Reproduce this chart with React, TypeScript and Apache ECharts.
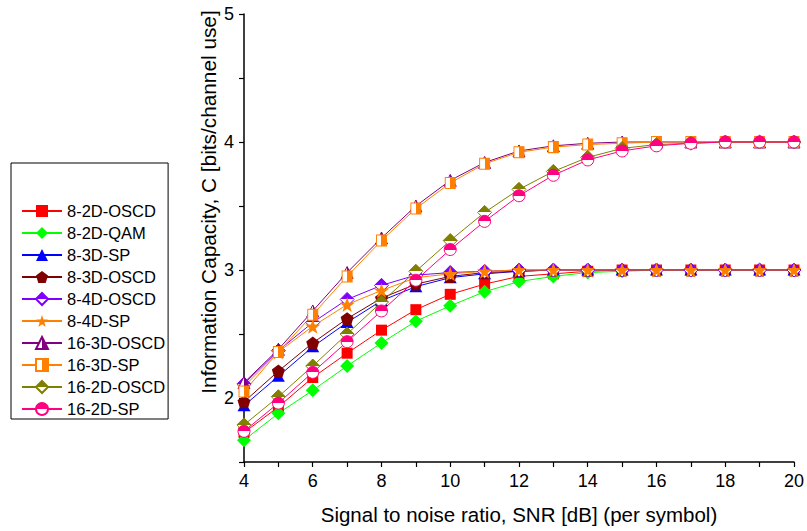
import React, { useEffect, useRef } from "react";
import * as echarts from "echarts";

const snr = [4, 5, 6, 7, 8, 9, 10, 11, 12, 13, 14, 15, 16, 17, 18, 19, 20];

const s8_2D_OSCD = [1.73, 1.93, 2.16, 2.35, 2.53, 2.69, 2.81, 2.89, 2.95, 2.97, 2.99, 3.0, 3.0, 3.0, 3.0, 3.0, 3.0];
const s8_2D_QAM = [1.67, 1.88, 2.06, 2.25, 2.43, 2.6, 2.72, 2.83, 2.91, 2.95, 2.98, 2.99, 3.0, 3.0, 3.0, 3.0, 3.0];
const s8_3D_SP = [1.94, 2.17, 2.4, 2.59, 2.76, 2.87, 2.94, 2.97, 2.99, 3.0, 3.0, 3.0, 3.0, 3.0, 3.0, 3.0, 3.0];
const s8_3D_OSCD = [1.97, 2.21, 2.43, 2.62, 2.78, 2.89, 2.95, 2.98, 2.99, 3.0, 3.0, 3.0, 3.0, 3.0, 3.0, 3.0, 3.0];
const s8_4D_OSCD = [2.11, 2.37, 2.59, 2.77, 2.88, 2.96, 2.98, 2.99, 3.0, 3.0, 3.0, 3.0, 3.0, 3.0, 3.0, 3.0, 3.0];
const s8_4D_SP = [2.09, 2.36, 2.56, 2.73, 2.84, 2.94, 2.97, 2.99, 3.0, 3.0, 3.0, 3.0, 3.0, 3.0, 3.0, 3.0, 3.0];
const s16_3D_OSCD = [2.12, 2.38, 2.68, 2.98, 3.25, 3.5, 3.7, 3.84, 3.93, 3.97, 3.99, 4.0, 4.0, 4.0, 4.0, 4.0, 4.0];
const s16_3D_SP = [2.05, 2.36, 2.65, 2.95, 3.23, 3.48, 3.68, 3.83, 3.92, 3.96, 3.98, 3.99, 4.0, 4.0, 4.0, 4.0, 4.0];
const s16_2D_OSCD = [1.79, 2.01, 2.25, 2.5, 2.75, 2.99, 3.23, 3.45, 3.63, 3.77, 3.88, 3.95, 3.98, 3.99, 4.0, 4.0, 4.0];
const s16_2D_SP = [1.74, 1.96, 2.2, 2.44, 2.68, 2.92, 3.16, 3.38, 3.58, 3.74, 3.86, 3.93, 3.97, 3.99, 4.0, 4.0, 4.0];

const xTitle = "Signal to noise ratio, SNR [dB] (per symbol)";
const yTitle = "Information Capacity, C [bits/channel use]";

const FONT = "'Liberation Sans', Arial, sans-serif";

const PENTAGON = "path://M10 0 L19.51 6.91 L15.88 18.09 L4.12 18.09 L0.49 6.91 Z";
const STAR =
  "path://M10 0 L12.35 6.76 L19.51 6.91 L13.8 11.24 L15.88 18.09 L10 14 L4.12 18.09 L6.2 11.24 L0.49 6.91 L7.65 6.76 Z";

function halfFill(color: string, dir: "top" | "right") {
  const grad =
    dir === "top"
      ? new echarts.graphic.LinearGradient(0, 0, 0, 1, [
          { offset: 0, color },
          { offset: 0.5, color },
          { offset: 0.5, color: "#ffffff" },
          { offset: 1, color: "#ffffff" },
        ])
      : new echarts.graphic.LinearGradient(0, 0, 1, 0, [
          { offset: 0, color: "#ffffff" },
          { offset: 0.5, color: "#ffffff" },
          { offset: 0.5, color },
          { offset: 1, color },
        ]);
  return { color: grad, borderColor: color, borderWidth: 1 };
}

type Spec = {
  name: string;
  data: number[];
  color: string;
  symbol: string;
  size: number | number[];
  half?: "top" | "right";
};

const specs: Spec[] = [
  { name: "8-2D-OSCD", data: s8_2D_OSCD, color: "#ff0000", symbol: "rect", size: 11 },
  { name: "8-2D-QAM", data: s8_2D_QAM, color: "#00ff00", symbol: "diamond", size: 14 },
  { name: "8-3D-SP", data: s8_3D_SP, color: "#0000ff", symbol: "triangle", size: [13, 11] },
  { name: "8-3D-OSCD", data: s8_3D_OSCD, color: "#800000", symbol: PENTAGON, size: 13 },
  { name: "8-4D-OSCD", data: s8_4D_OSCD, color: "#8000ff", symbol: "diamond", size: 14, half: "top" },
  { name: "8-4D-SP", data: s8_4D_SP, color: "#ff8000", symbol: STAR, size: 15 },
  { name: "16-3D-OSCD", data: s16_3D_OSCD, color: "#800080", symbol: "triangle", size: [12, 12], half: "right" },
  { name: "16-3D-SP", data: s16_3D_SP, color: "#ff8000", symbol: "rect", size: [10, 11], half: "right" },
  { name: "16-2D-OSCD", data: s16_2D_OSCD, color: "#808000", symbol: "diamond", size: 14, half: "top" },
  { name: "16-2D-SP", data: s16_2D_SP, color: "#ff0080", symbol: "circle", size: 12, half: "top" },
];

export default function App() {
  const ref = useRef<HTMLDivElement>(null);
  useEffect(() => {
    if (!ref.current) return;
    const chart = echarts.init(ref.current, null, { renderer: "svg" });
    const series = specs.map((s) => ({
      type: "line",
      name: s.name,
      data: snr.map((x, i) => [x, s.data[i]]),
      symbol: s.symbol,
      symbolSize: s.size,
      showAllSymbol: true,
      lineStyle: { color: s.color, width: 1 },
      itemStyle: s.half ? halfFill(s.color, s.half) : { color: s.color, borderWidth: 0 },
      emphasis: { disabled: true },
      silent: true,
    }));
    chart.setOption({
      animation: false,
      backgroundColor: "#ffffff",
      textStyle: { fontFamily: FONT },
      grid: { left: 244, right: 3, top: 14, bottom: 69, containLabel: false },
      legend: {
        orient: "vertical",
        left: 11,
        top: 163,
        padding: [39, 3, 1, 10],
        borderColor: "#000",
        borderWidth: 1,
        itemWidth: 40,
        itemHeight: 15,
        itemGap: 4,
        itemTextGap: 3,
        textStyle: { fontSize: 16.5, color: "#000", fontFamily: FONT, lineHeight: 18 },
        data: specs.map((s) => s.name),
        selectedMode: false,
      },
      xAxis: {
        type: "value",
        min: 4,
        max: 20,
        interval: 1,
        name: xTitle,
        nameLocation: "middle",
        nameGap: 42,
        nameTextStyle: { fontSize: 20.5, color: "#000", fontFamily: FONT },
        axisLine: { lineStyle: { color: "#000", width: 1.5 } },
        axisTick: { show: true, length: 5, lineStyle: { color: "#000", width: 1.2 } },
        axisLabel: {
          fontSize: 18,
          color: "#000",
          margin: 10,
          fontFamily: FONT,
          formatter: (v: number) => (v % 2 === 0 ? String(v) : ""),
        },
        splitLine: { show: false },
      },
      yAxis: {
        type: "value",
        min: 1.5,
        max: 5,
        interval: 0.5,
        axisLine: { show: true, lineStyle: { color: "#000", width: 1.5 } },
        axisTick: { show: true, length: 5, lineStyle: { color: "#000", width: 1.2 } },
        axisLabel: {
          fontSize: 18,
          color: "#000",
          margin: 10,
          fontFamily: FONT,
          formatter: (v: number) => (Number.isInteger(v) && v >= 2 ? String(v) : ""),
        },
        splitLine: { show: false },
      },
      graphic: [
        {
          type: "text",
          x: 208,
          y: 202,
          rotation: Math.PI / 2,
          style: {
            text: yTitle,
            fontSize: 20.8,
            fontFamily: FONT,
            fill: "#000",
            align: "center",
            verticalAlign: "middle",
          },
        },
      ],
      series,
    });
    return () => chart.dispose();
  }, []);
  return (
    <div
      ref={ref}
      style={{ position: "fixed", left: 0, top: 0, width: 807, height: 531, background: "#fff" }}
    />
  );
}
